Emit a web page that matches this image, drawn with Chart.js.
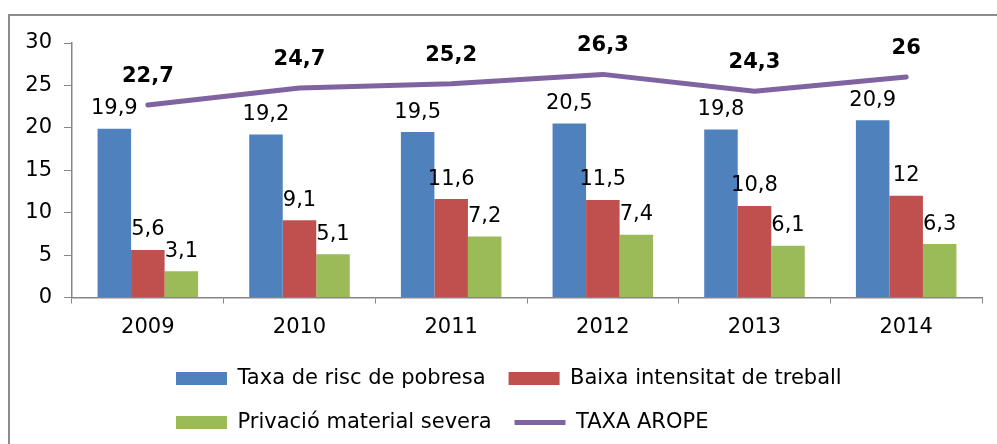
<!DOCTYPE html>
<html><head><meta charset="utf-8">
<script src="https://cdn.jsdelivr.net/npm/chart.js@4/dist/chart.umd.min.js"></script>
<style>html,body{margin:0;padding:0;background:#fff;overflow:hidden}</style>
</head><body>
<canvas id="c" width="997" height="444"></canvas>
<script>
const categories = ['2009', '2010', '2011', '2012', '2013', '2014'];
const taxaRisc = [19.9, 19.2, 19.5, 20.5, 19.8, 20.9];
const baixaIntensitat = [5.6, 9.1, 11.6, 11.5, 10.8, 12];
const privacio = [3.1, 5.1, 7.2, 7.4, 6.1, 6.3];
const taxaArope = [22.7, 24.7, 25.2, 26.3, 24.3, 26];
const seriesNames = ['Taxa de risc de pobresa', 'Baixa intensitat de treball', 'Privació material severa', 'TAXA AROPE'];
const yTicks = [0, 5, 10, 15, 20, 25, 30];

Chart.defaults.font.family = "'DejaVu Sans', sans-serif";
Chart.defaults.font.size = 21;
Chart.defaults.color = '#000';

const frame = {
  id: 'frame',
  beforeDraw(chart) {
    const ctx = chart.ctx;
    ctx.save();
    ctx.strokeStyle = '#8c8c8c';
    ctx.lineWidth = 2;
    ctx.beginPath();
    ctx.moveTo(9, 444);
    ctx.lineTo(9, 15);
    ctx.lineTo(997, 15);
    ctx.stroke();
    ctx.restore();
  }
};

const legendShift = {
  id: 'legendShift',
  afterLayout(chart) {
    if (chart.legend) chart.legend.left += 143;
  }
};

const valueLabels = {
  id: 'valueLabels',
  afterDatasetsDraw(chart) {
    const ctx = chart.ctx;
    ctx.save();
    ctx.textAlign = 'center';
    ctx.textBaseline = 'middle';
    ctx.fillStyle = '#000';
    chart.data.datasets.forEach((ds, i) => {
      const meta = chart.getDatasetMeta(i);
      const isLine = ds.type === 'line';
      ctx.font = (isLine ? 'bold ' : '') + "21px 'DejaVu Sans'";
      meta.data.forEach((el, j) => {
        const txt = String(ds.data[j]).replace('.', ',');
        ctx.fillText(txt, el.x, el.y - (isLine ? 28.5 : 20));
      });
    });
    ctx.restore();
  }
};

new Chart(document.getElementById('c'), {
  type: 'bar',
  data: {
    labels: categories,
    datasets: [
      { label: seriesNames[0], data: taxaRisc, backgroundColor: '#4F81BD', borderWidth: 0, pointStyle: 'rect' },
      { label: seriesNames[1], data: baixaIntensitat, backgroundColor: '#C0504D', borderWidth: 0, pointStyle: 'rect' },
      { label: seriesNames[2], data: privacio, backgroundColor: '#9BBB59', borderWidth: 0, pointStyle: 'rect' },
      { type: 'line', label: seriesNames[3], data: taxaArope, borderColor: '#8064A2', backgroundColor: '#8064A2',
        borderWidth: 5, pointRadius: 0, pointHoverRadius: 0, pointStyle: 'line', tension: 0,
        borderCapStyle: 'round', borderJoinStyle: 'round', fill: false }
    ]
  },
  options: {
    responsive: false,
    animation: false,
    devicePixelRatio: 1,
    layout: { padding: { left: 10, right: 15, top: 43, bottom: 1 } },
    datasets: { bar: { categoryPercentage: 0.663, barPercentage: 1 } },
    plugins: {
      legend: {
        position: 'bottom',
        align: 'start',
        labels: { usePointStyle: true, pointStyleWidth: 51, boxHeight: 13, padding: 23, color: '#000', font: { size: 21 } }
      },
      tooltip: { enabled: false }
    },
    scales: {
      x: {
        grid: { offset: true, drawOnChartArea: false, drawTicks: true, tickLength: 6, color: '#868686', lineWidth: 1 },
        border: { display: true, color: '#868686', width: 1.5 },
        ticks: { color: '#000', padding: 11, font: { size: 21 } },
        afterFit(s) { s.height = 47.5; }
      },
      y: {
        min: yTicks[0],
        max: yTicks[yTicks.length - 1],
        ticks: { stepSize: yTicks[1] - yTicks[0], color: '#000', padding: 12, font: { size: 21 } },
        grid: { drawOnChartArea: false, drawTicks: true, tickLength: 8, color: '#868686' },
        border: { display: true, color: '#868686', width: 1.5 },
        afterFit(s) { s.width = 62; }
      }
    }
  },
  plugins: [frame, valueLabels, legendShift]
});
</script>
</body></html>
